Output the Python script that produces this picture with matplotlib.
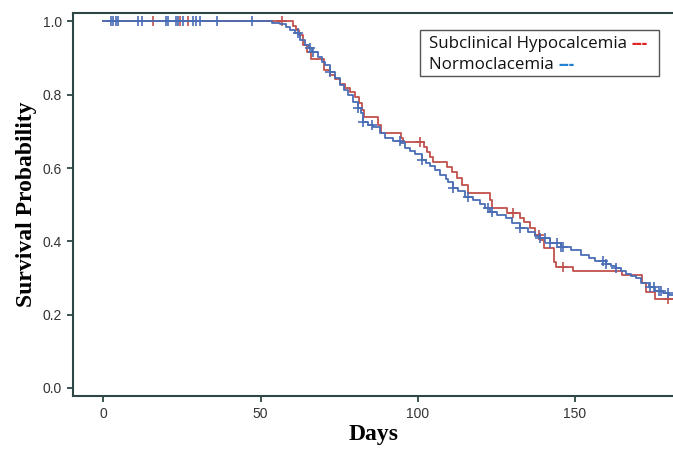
import matplotlib
matplotlib.use("Agg")
import matplotlib.pyplot as plt
import numpy as np

# Subclinical hypocalcemia: event times (days) and survival after each step
red_days = [60.4, 61.3, 62.3, 63.5, 64.8, 66.1, 70.2, 72.1, 73.7, 75.3, 76.9, 78.5,
            80.1, 81.4, 82.3, 83.0, 87.4, 88.4, 94.7, 95.4, 102.1, 103.0, 104.0, 104.9,
            109.4, 111.0, 112.6, 114.2, 115.8, 122.8, 123.7, 128.5, 132.6, 133.9, 135.8,
            137.4, 139.0, 140.0, 143.2, 144.1, 149.5, 165.1, 171.2, 172.5, 175.3]
red_surv = [0.988, 0.977, 0.963, 0.936, 0.917, 0.898, 0.868, 0.854, 0.843, 0.829, 0.819, 0.808,
            0.794, 0.778, 0.759, 0.739, 0.718, 0.696, 0.682, 0.671, 0.658, 0.644, 0.630, 0.617,
            0.603, 0.589, 0.573, 0.554, 0.532, 0.513, 0.491, 0.477, 0.464, 0.453, 0.437,
            0.417, 0.404, 0.382, 0.344, 0.330, 0.319, 0.308, 0.286, 0.262, 0.243]
red_censor = [15.8, 24.4, 26.9, 56.8, 100.8, 130.4, 138.4, 146.3, 179.5]

# Normocalcemia
blue_days = [53.7, 56.2, 58.1, 59.4, 61.0, 62.6, 64.2, 65.4, 66.4, 68.3, 69.6, 70.5,
             72.1, 73.7, 75.3, 76.6, 77.9, 79.5, 81.1, 82.0, 82.6, 84.2, 85.8, 88.1,
             89.6, 92.2, 94.7, 96.0, 97.6, 99.2, 101.4, 102.7, 104.0, 105.6, 107.2, 108.8,
             109.7, 111.3, 112.9, 115.1, 117.4, 119.9, 121.5, 123.1, 125.3, 127.9, 130.1,
             132.6, 134.9, 137.4, 139.0, 142.2, 145.4, 148.6, 151.8, 154.3, 156.5, 159.7,
             161.3, 162.9, 164.5, 166.1, 167.7, 169.3, 170.9, 173.4, 175.6, 177.9, 179.8]
blue_surv = [0.995, 0.992, 0.985, 0.977, 0.969, 0.950, 0.936, 0.928, 0.917, 0.903, 0.889, 0.881,
             0.862, 0.846, 0.827, 0.813, 0.800, 0.780, 0.764, 0.750, 0.726, 0.718, 0.712, 0.696,
             0.682, 0.674, 0.668, 0.655, 0.647, 0.638, 0.622, 0.614, 0.606, 0.595, 0.581, 0.570,
             0.562, 0.546, 0.538, 0.521, 0.513, 0.502, 0.491, 0.480, 0.472, 0.464, 0.450,
             0.437, 0.426, 0.415, 0.409, 0.396, 0.385, 0.377, 0.363, 0.355, 0.347, 0.338,
             0.333, 0.327, 0.319, 0.311, 0.306, 0.300, 0.286, 0.276, 0.265, 0.259, 0.254]
blue_censor = [2.4, 3.0, 4.0, 4.6, 11.0, 12.3, 19.9, 20.5, 23.1, 23.7, 25.3, 28.5, 29.5,
               30.7, 36.1, 47.3, 61.9, 65.8, 66.7, 72.1, 81.1, 82.6, 85.5, 94.4, 101.4,
               111.3, 115.8, 122.2, 123.7, 132.6, 139.0, 140.6, 142.2, 144.4, 145.4,
               146.3, 158.8, 159.7, 162.9, 174.0, 175.0, 176.6, 177.2, 179.5]

legend_labels = ["Subclinical Hypocalcemia", "Normoclacemia"]
x_end = 182

red_col = "#c0504d"
blue_col = "#4a6db5"
spine_col = "#2f4646"


def km_curve(days, surv):
    x = np.concatenate([[0], days, [x_end]])
    y = np.concatenate([[1.0], surv, [surv[-1]]])
    return x, y


def surv_at(t, days, surv):
    idx = np.searchsorted(days, t, side="right") - 1
    return np.where(idx < 0, 1.0, np.array(surv)[np.clip(idx, 0, None)])


fig = plt.figure(figsize=(6.73, 4.51), dpi=100)
ax = fig.add_axes([73 / 673, 1 - 396 / 451, 1 - 73 / 673 + 0.002, (396 - 13) / 451])

for days, surv, cens, col in [(red_days, red_surv, red_censor, red_col),
                              (blue_days, blue_surv, blue_censor, blue_col)]:
    x, y = km_curve(days, surv)
    ax.step(x, y, where="post", color=col, lw=1.3)
    cy = surv_at(np.array(cens), days, surv)
    ax.plot(cens, cy, ls="none", marker="+", ms=7, mew=1.2, color=col)

ax.set_xlim(-9.7, 181.6)
ax.set_ylim(-0.022, 1.023)
ax.set_xticks([0, 50, 100, 150])
ax.set_yticks([0.0, 0.2, 0.4, 0.6, 0.8, 1.0])
ax.yaxis.set_major_formatter(matplotlib.ticker.FormatStrFormatter("%.1f"))

for s in ["left", "bottom", "top"]:
    ax.spines[s].set_color(spine_col)
    ax.spines[s].set_linewidth(1.5)
ax.spines["right"].set_visible(False)
ax.tick_params(direction="out", length=4.5, width=1.3, color=spine_col,
               labelsize=10, labelcolor="#333333", pad=3.5)
for lab in ax.get_xticklabels() + ax.get_yticklabels():
    lab.set_family("Liberation Sans")

ax.set_xlabel("Days", fontsize=17, fontweight="bold", family="Liberation Serif", labelpad=2)
ax.set_ylabel("Survival Probability", fontsize=17, fontweight="bold",
              family="Liberation Serif", labelpad=4)

# legend box drawn as text lines with coloured dashes
ax.add_patch(plt.Rectangle((420 / 673, 1 - 76 / 451), (659 - 420) / 673, (76 - 30) / 451,
                           transform=fig.transFigure, fill=False, ec="#555555", lw=1.0))
dash_cols = ["#e02020", "#1f7fd0"]
rows_y = [44, 65]
for lab, dcol, ry in zip(legend_labels, dash_cols, rows_y):
    t = fig.text(429 / 673, 1 - ry / 451, lab + " ", fontsize=12.2, family="Open Sans",
                 va="center", color="#111111")
    ax.annotate("---", xy=(1, 0.5), xycoords=t, va="center", ha="left",
                fontsize=12.2, family="Open Sans", color=dcol, fontweight="bold",
                annotation_clip=False)

fig.savefig("out.png", dpi=100)
